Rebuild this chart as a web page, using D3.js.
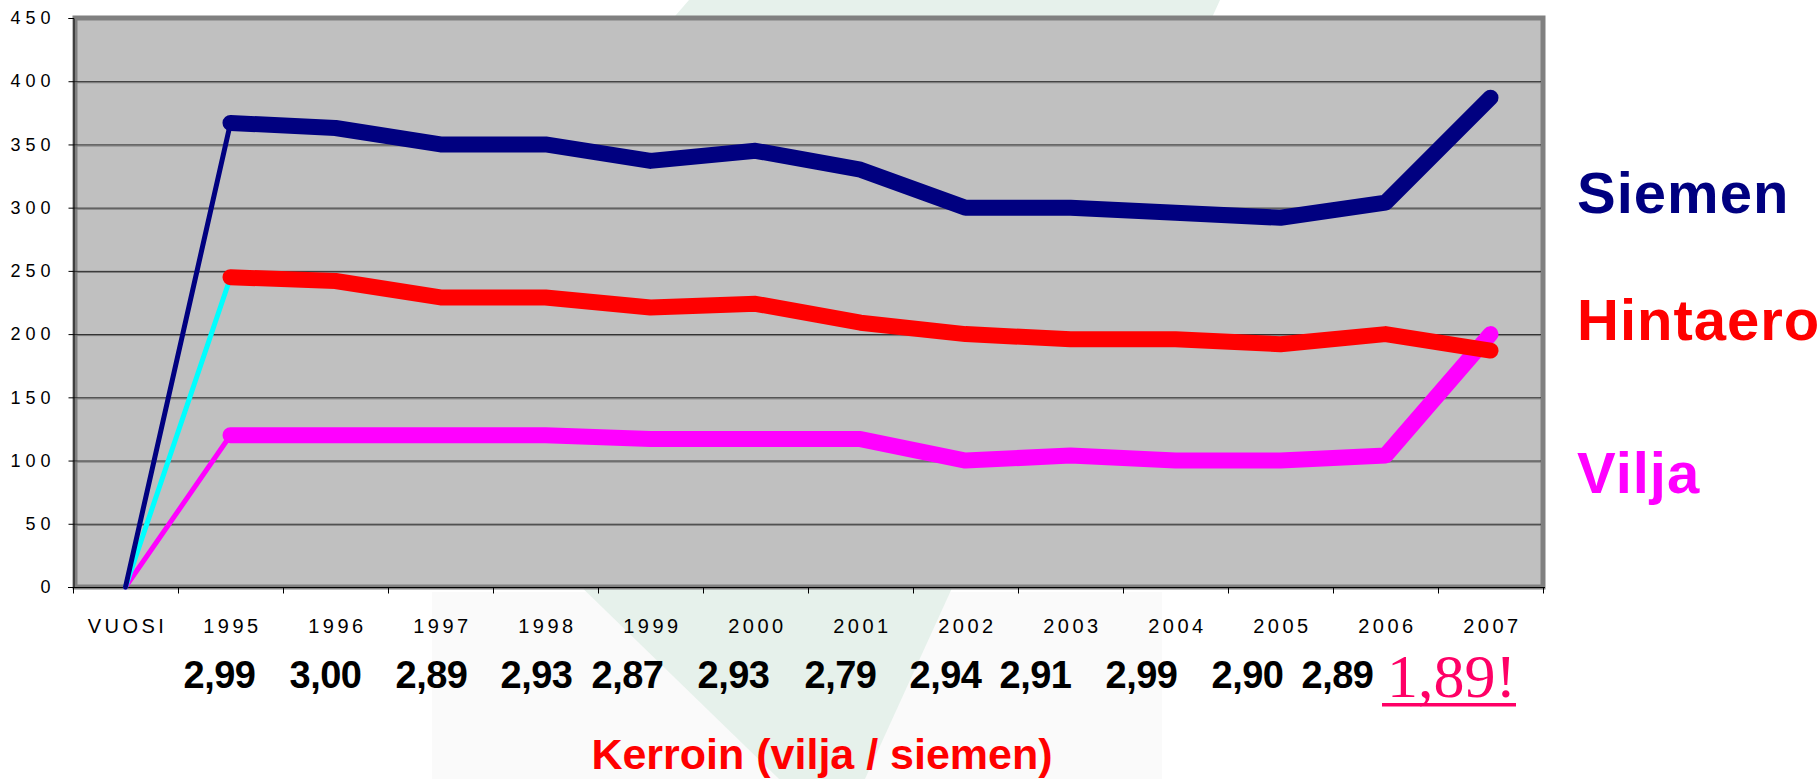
<!DOCTYPE html>
<html>
<head>
<meta charset="utf-8">
<script src="https://cdn.jsdelivr.net/npm/d3@7"></script>
<style>
  html, body { margin: 0; padding: 0; background: #fff; }
  svg { display: block; font-family: "Liberation Sans", Arial, sans-serif; }
</style>
</head>
<body>
<script>
// data
const categories = ["VUOSI", "1995", "1996", "1997", "1998", "1999", "2000", "2001", "2002", "2003", "2004", "2005", "2006", "2007"];
const siemen   = [0, 367, 363, 350, 350, 337, 345, 330, 300, 300, 296, 292, 304, 387];
const hintaero = [0, 245, 242, 229, 229, 221, 224, 209, 200, 196, 196, 192, 200, 187];
const vilja    = [0, 120, 120, 120, 120, 117, 117, 117, 100, 104, 100, 100, 104, 200];
const yTicks = [0, 50, 100, 150, 200, 250, 300, 350, 400, 450];
const kerroin = ["2,99", "3,00", "2,89", "2,93", "2,87", "2,93", "2,79", "2,94", "2,91", "2,99", "2,90", "2,89", "1,89!"];
// the ratio labels were placed by hand, a bit left of each year
const kerroinDx = [-11, -10, -9, -9, -23, -22, -20, -20, -35, -34, -33, -48, -39];

const W = 1820, H = 779;
const svg = d3.select("body").append("svg").attr("width", W).attr("height", H);

/* ** BACKGROUND ** */
svg.append("rect").attr("x", 432).attr("y", 592).attr("width", 730).attr("height", 187).attr("fill", "#fafafa");
svg.append("polygon")
  .attr("points", "689,0 1220,0 865,779 779,779 363,375")
  .attr("fill", "#e6f1eb");

/* ** SCALES ** */
const x = d3.scaleBand().domain(categories).range([73, 1543]);
const cx = d => x(d) + x.bandwidth() / 2;
const y = d3.scaleLinear().domain([0, 450]).range([587, 18]);

/* ** PLOT AREA ** */
svg.append("rect").attr("x", 75).attr("y", 18).attr("width", 1468).attr("height", 569)
  .attr("fill", "#c0c0c0").attr("stroke", "#808080").attr("stroke-width", 5);

const grid = svg.append("g").selectAll("g").data(yTicks.filter(v => v > 0 && v < 450)).enter().append("g");
grid.append("line")
  .attr("x1", 73).attr("x2", 1541)
  .attr("y1", d => y(d) + 0.5).attr("y2", d => y(d) + 0.5)
  .attr("stroke", "#222").attr("stroke-width", 1);
grid.append("line")
  .attr("x1", 73).attr("x2", 1541)
  .attr("y1", d => y(d) + 1.5).attr("y2", d => y(d) + 1.5)
  .attr("stroke", "#777").attr("stroke-width", 1);

// axes
const yAxis = svg.append("g").attr("transform", "translate(73.5,0)")
  .call(d3.axisLeft(y).tickValues(yTicks).tickSize(5).tickPadding(13));
yAxis.select(".domain").attr("stroke", "#000");
yAxis.selectAll("text").attr("font-size", 18).attr("letter-spacing", "5px").attr("fill", "#000");

const xAxis = svg.append("g").attr("transform", "translate(0,587.5)")
  .call(d3.axisBottom(x).tickSize(0).tickFormat(""));
xAxis.select(".domain").attr("stroke", "#000").attr("d", "M68,0H1545");
const bounds = categories.map(c => x(c)).concat([1543]);
xAxis.selectAll(".bt").data(bounds).enter().append("line").attr("class", "bt")
  .attr("x1", d => d + 0.5).attr("x2", d => d + 0.5).attr("y1", 0).attr("y2", 6)
  .attr("stroke", "#000");
svg.append("g").selectAll("text").data(categories).enter().append("text")
  .attr("x", d => cx(d) + 2).attr("y", 633)
  .attr("text-anchor", "middle").attr("font-size", 20).attr("letter-spacing", "3.5px")
  .text(d => d);

/* ** LINES ** */
const line = d3.line().x(d => cx(d.c)).y(d => y(d.v));
const series = [
  { values: vilja, color: "#ff00ff", first: "#ff00ff" },
  { values: hintaero, color: "#ff0000", first: "#00ffff" },
  { values: siemen, color: "#000080", first: "#000080" }
];
series.forEach(s => {
  const pts = s.values.map((v, i) => ({ c: categories[i], v: v }));
  svg.append("path").attr("d", line(pts.slice(0, 2)))
    .attr("fill", "none").attr("stroke", s.first).attr("stroke-width", 5).attr("stroke-linecap", "round");
});
series.forEach(s => {
  const pts = s.values.map((v, i) => ({ c: categories[i], v: v }));
  svg.append("path").attr("d", line(pts.slice(1)))
    .attr("fill", "none").attr("stroke", s.color).attr("stroke-width", 16)
    .attr("stroke-linecap", "round").attr("stroke-linejoin", "round");
});

/* ** LEGEND ** */
const legend = [["Siemen", "#000080", 213], ["Hintaero", "#ff0000", 340], ["Vilja", "#ff00ff", 493]];
svg.append("g").selectAll("text").data(legend).enter().append("text")
  .attr("x", 1577).attr("y", d => d[2]).attr("fill", d => d[1])
  .attr("font-size", 58).attr("font-weight", "bold").attr("letter-spacing", "1px")
  .text(d => d[0]);

/* ** RATIO ROW ** */
const years = categories.slice(1);
svg.append("g").selectAll("text").data(kerroin.slice(0, -1)).enter().append("text")
  .attr("x", (d, i) => cx(years[i]) + kerroinDx[i]).attr("y", 688)
  .attr("text-anchor", "middle").attr("font-size", 38).attr("font-weight", "bold")
  .attr("letter-spacing", "-0.5px")
  .text(d => d);
const last = kerroin.length - 1;
svg.append("text")
  .attr("x", cx(years[last]) + kerroinDx[last]).attr("y", 697)
  .attr("text-anchor", "middle").attr("font-family", "'Liberation Serif', 'Times New Roman', serif")
  .attr("font-size", 62).attr("fill", "#ff0066")
  .text(kerroin[last]);
svg.append("rect").attr("x", 1382).attr("y", 703).attr("width", 134).attr("height", 3.5).attr("fill", "#ff0066");

svg.append("text").attr("x", 822).attr("y", 769).attr("text-anchor", "middle")
  .attr("font-size", 43).attr("font-weight", "bold").attr("fill", "#ff0000")
  .text("Kerroin (vilja / siemen)");
</script>
</body>
</html>
